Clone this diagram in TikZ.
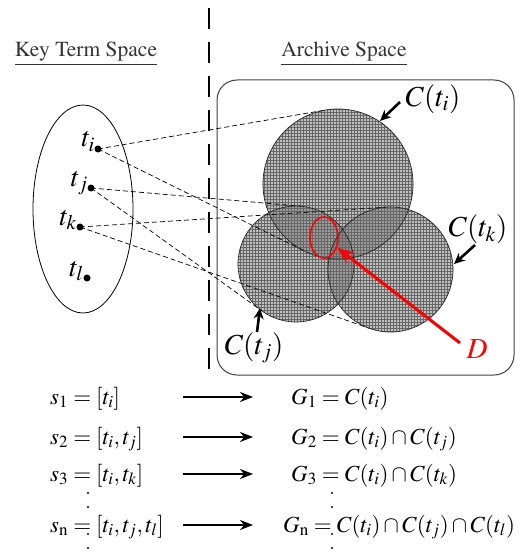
\documentclass[tikz,border=0pt]{standalone}
\usepackage[T1]{fontenc}
\usepackage{mathptmx}
\usetikzlibrary{arrows.meta,calc,patterns,shapes.geometric}
\begin{document}
\begin{tikzpicture}[x=1pt,y=-1pt,
  dotn/.style={circle,fill,inner sep=0,minimum size=7pt},
  tlab/.style={anchor=base east,inner sep=0,font=\fontsize{28}{30}\selectfont},
  clab/.style={inner sep=0,font=\fontsize{29}{31}\selectfont},
  head/.style={inner sep=0,font=\fontsize{21.5}{24}\selectfont,text=black!80},
  tanline/.style={dash pattern=on 5pt off 3pt,line width=0.7pt},
  area/.style={fill=black!55,fill opacity=0.45},
  mesh/.style={pattern=grid,pattern color=black!60,fill opacity=0.2},
  carrow/.style={line width=2.6pt,-{Stealth[length=11pt,width=10pt]}},
  rowarrow/.style={line width=2pt,-{Stealth[length=13pt,width=10pt]}},
  formula/.style={anchor=base west,inner sep=0,font=\fontsize{23}{25}\selectfont},
  vdot/.style={circle,fill,inner sep=0,minimum size=2.2pt}
]
\useasboundingbox (0,0) rectangle (521,556);

% headings
\node[head] (kts) at (86,54) {\underline{Key Term Space}};
\node[head] (ars) at (344,54) {\underline{Archive Space}};

% separator
\coordinate (vt) at (209,8);
\coordinate (vb) at (209,372);
\draw[line width=2.6pt,dash pattern=on 21pt off 13pt] (vt) -- (vb);

% archive frame
\node[draw=black!75,line width=1pt,rounded corners=20pt,minimum width=297pt,minimum height=295pt,inner sep=0] (frame) at (365.5,227.5) {};

% key term ellipse
\node[draw,ellipse,minimum width=100pt,minimum height=208pt,inner sep=0,line width=0.8pt] (kset) at (83,209) {};

% term dots
\node[dotn] (ti) at (98,149) {};
\node[dotn] (tj) at (91,188) {};
\node[dotn] (tk) at (80,227) {};
\node[dotn] (tl) at (87,278) {};
\node[tlab] (lti) at ([xshift=-3pt,yshift=2pt]ti.center) {$t_i$};
\node[tlab] (ltj) at ([xshift=-3pt,yshift=2pt]tj.center) {$t_j$};
\node[tlab] (ltk) at ([xshift=-3pt,yshift=2pt]tk.center) {$t_k$};
\node[tlab] (ltl) at ([xshift=-3pt,yshift=2pt]tl.center) {$t_l$};

% circles (cluster regions)
\node[circle,minimum size=150pt,inner sep=0,outer sep=0] (ci) at (338,184) {};
\node[circle,minimum size=116pt,inner sep=0,outer sep=0] (cj) at (296,264) {};
\node[circle,minimum size=125pt,inner sep=0,outer sep=0] (ck) at (390.5,269.5) {};

\fill[area] (ci.center) circle[radius=75pt];
\fill[area] (cj.center) circle[radius=58pt];
\fill[area] (ck.center) circle[radius=62.5pt];
\fill[mesh] (ci.center) circle[radius=75pt];
\fill[mesh] (cj.center) circle[radius=58pt];
\fill[mesh] (ck.center) circle[radius=62.5pt];

% tangent lines
\draw[tanline] (ti.center) -- (tangent cs:node=ci,point={(ti.center)},solution=1);
\draw[tanline] (ti.center) -- (tangent cs:node=ci,point={(ti.center)},solution=2);
\draw[tanline] (tj.center) -- (tangent cs:node=cj,point={(tj.center)},solution=1);
\draw[tanline] (tj.center) -- (tangent cs:node=cj,point={(tj.center)},solution=2);
\draw[tanline] (tk.center) -- (tangent cs:node=ck,point={(tk.center)},solution=1);
\draw[tanline] (tk.center) -- (tangent cs:node=ck,point={(tk.center)},solution=2);

% outlines
\draw[line width=0.7pt,black!85] (ci.center) circle[radius=75pt];
\draw[line width=0.7pt,black!85] (cj.center) circle[radius=58pt];
\draw[line width=0.7pt,black!85] (ck.center) circle[radius=62.5pt];

% labels of circles
\node[clab] (lci) at (433,99) {$C(t_i)$};
\node[clab] (lck) at (478,229) {$C(t_k)$};
\node[clab] (lcj) at (254,348) {$C(t_j)$};
\coordinate (aci1) at (400,102);
\coordinate (aci2) at (380,121);
\coordinate (ack1) at (475,245);
\coordinate (ack2) at (454,264);
\coordinate (acj1) at (257,332);
\coordinate (acj2) at (260,308);
\draw[carrow] (aci1) -- (aci2);
\draw[carrow] (ack1) -- (ack2);
\draw[carrow] (acj1) -- (acj2);

% D region
\node[draw=red,ellipse,minimum width=28pt,minimum height=41pt,inner sep=0,line width=1.6pt] (dreg) at (324,237.5) {};
\node[clab,text=red] (dlab) at (477,349) {$D$};
\coordinate (dstart) at (460,343);
\draw[red,line width=3pt,-{Stealth[length=17pt,width=13pt]}] (dstart) -- (dreg);

% rows
\node[formula] (s1) at (50,404) {$s_1=[t_i]$};
\node[formula] (s2) at (50,444) {$s_2=[t_i,t_j]$};
\node[formula] (s3) at (50,481) {$s_3=[t_i,t_k]$};
\node[formula] (sn) at (50,532) {$s_{\mathrm{n}}=[t_i,t_j,t_l]$};

\node[formula] (g1) at (291,404) {$G_1=C(t_i)$};
\node[formula] (g2) at (291,444) {$G_2=C(t_i)\cap C(t_j)$};
\node[formula] (g3) at (291,481) {$G_3=C(t_i)\cap C(t_k)$};
\node[formula] (gn) at (283,532) {$G_{\mathrm{n}}=C(t_i)\cap C(t_j)\cap C(t_l)$};

\coordinate (a1s) at (183,397); \coordinate (a1e) at (253,397);
\coordinate (a2s) at (183,437); \coordinate (a2e) at (253,437);
\coordinate (a3s) at (183,474); \coordinate (a3e) at (253,474);
\coordinate (ans) at (183,525); \coordinate (ane) at (253,525);
\draw[rowarrow] (a1s) -- (a1e);
\draw[rowarrow] (a2s) -- (a2e);
\draw[rowarrow] (a3s) -- (a3e);
\draw[rowarrow] (ans) -- (ane);

% vertical ellipsis dots
\node[vdot] (d1) at (88,493) {};
\node[vdot] (d2) at (88,507) {};
\node[vdot] (d3) at (88,534) {};
\node[vdot] (d4) at (88,548) {};
\node[vdot] (e1) at (332,493) {};
\node[vdot] (e2) at (332,507) {};
\node[vdot] (e3) at (332,534) {};
\node[vdot] (e4) at (332,548) {};
\end{tikzpicture}
\end{document}
